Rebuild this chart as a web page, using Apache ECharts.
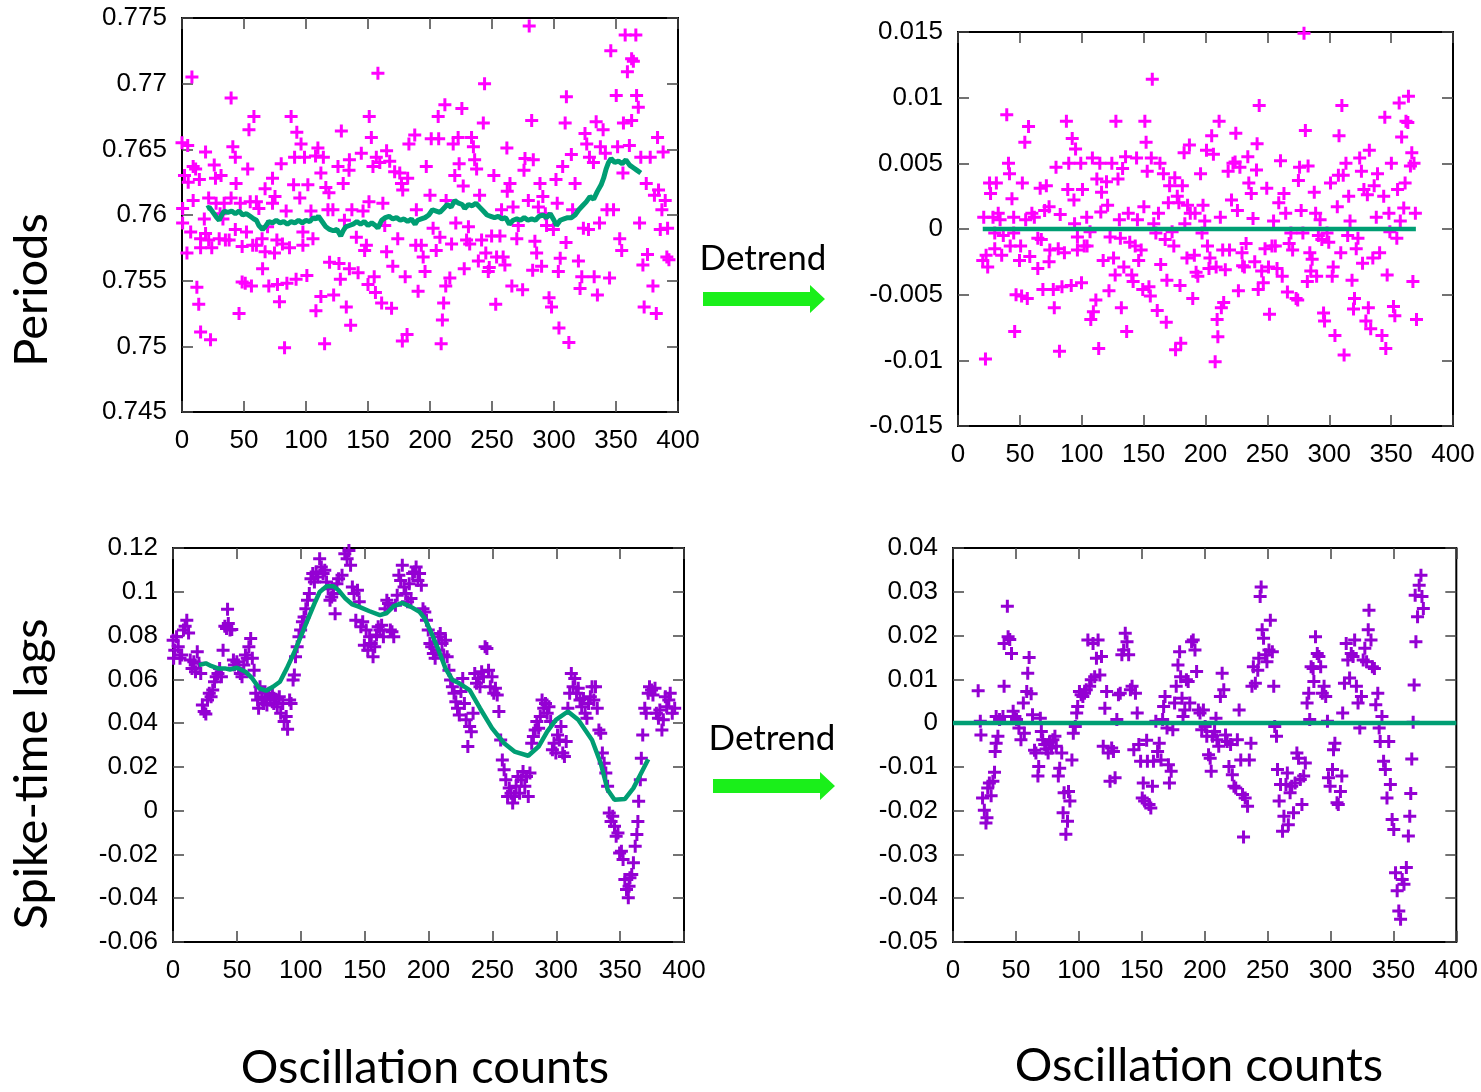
<!DOCTYPE html>
<html>
<head>
<meta charset="utf-8">
<title>Periods and spike-time lags</title>
<script src="https://cdn.jsdelivr.net/npm/echarts@6/dist/echarts.min.js"></script>
<style>
	html, body { margin: 0; padding: 0; background: #fff; }
	#box { width: 1481px; height: 1092px; }
</style>
</head>
<body>
<div id="box"></div>
<script>
// tick ranges [min, max, interval]
let countTicks = [0, 400, 50];
let periodTicks = [0.745, 0.775, 0.005];
let periodDetrendTicks = [-0.015, 0.015, 0.005];
let lagTicks = [-0.06, 0.12, 0.02];
let lagDetrendTicks = [-0.05, 0.04, 0.01];

// periods, raw [count, period]
let periodsRaw = [
	[0,0.7655],[4.6,0.7653],[8,0.7705],[2,0.7630],[5,0.7625],[9,0.7637],[11,0.7635],[14,0.7627],[0.5,0.7605],[9,0.7611],
	[0.5,0.7594],[7,0.7587],[4,0.7571],[12,0.7545],[13.5,0.7532],[15,0.7511],[23,0.7505],[18,0.7597],[19,0.7648],[21.5,0.7613],
	[15,0.7582],[19,0.7586],[21.5,0.7581],[15,0.7575],[24,0.7575],[26,0.7638],[27,0.7628],[31.5,0.7630],[27.5,0.7609],[30.7,0.7601],
	[33,0.7597],[34,0.7609],[30,0.7582],[35,0.7581],[38,0.7581],[39.6,0.7689],[41,0.7652],[43,0.7644],[43.6,0.7624],[39.6,0.7613],
	[43,0.7589],[47,0.7609],[46,0.7525],[48.5,0.7549],[51,0.7548],[53,0.7635],[52,0.7587],[48.5,0.7576],[54,0.7665],[58,0.7675],
	[55,0.7610],[57,0.7577],[56,0.7546],[60,0.7610],[62,0.7605],[60,0.7577],[64.6,0.7582],[65,0.7559],[67,0.7620],[69,0.7591],
	[67,0.7572],[70,0.7546],[73,0.7628],[73,0.7609],[74.6,0.7571],[75,0.7614],[76.5,0.7581],[78.6,0.7534],[77,0.7547],[80,0.7639],
	[81,0.7578],[82.7,0.7499],[84.6,0.7548],[84,0.7603],[86.7,0.7575],[88,0.7675],[90.8,0.7644],[90,0.7623],[92.6,0.7663],[92,0.7551],
	[95,0.7613],[96,0.7654],[97.5,0.7587],[98.8,0.7644],[97.5,0.7577],[101.5,0.7623],[100.7,0.7554],[104,0.7603],[105.6,0.7582],[107.7,0.7645],
	[109.6,0.7651],[112,0.7632],[114,0.7644],[108,0.7527],[112,0.7538],[115,0.7502],[116,0.7621],[117.7,0.7604],[118.5,0.7617],[119,0.7564],
	[121.7,0.7604],[122.3,0.7539],[125.8,0.7637],[126.6,0.7563],[128.5,0.7664],[130,0.7624],[127.7,0.7551],[131,0.7596],[132.5,0.7530],[135,0.7642],
	[134.7,0.7634],[137,0.7604],[136,0.7516],[135,0.7559],[140.6,0.7583],[142,0.7556],[144.6,0.7647],[146,0.7603],[147.3,0.7573],[148.7,0.7577],
	[151,0.7675],[152.7,0.7659],[150.8,0.7610],[150,0.7547],[154,0.7637],[155,0.7553],[158,0.7708],[156.7,0.7644],[159.5,0.7640],[156,0.7541],
	[162,0.7609],[163.5,0.7592],[165,0.7649],[167.5,0.7641],[161,0.7533],[169,0.7529],[165,0.7572],[170,0.7561],[171.5,0.7633],[175.6,0.7632],
	[174,0.7582],[177,0.7624],[178,0.7619],[180,0.7553],[177.7,0.7504],[181.5,0.7509],[182,0.7628],[183,0.7654],[187.7,0.7661],[189,0.7604],
	[188.5,0.7577],[190.4,0.7542],[193,0.7577],[194.5,0.7568],[196,0.7557],[197,0.7637],[200,0.7615],[201,0.7658],[202.5,0.7590],[205,0.7573],
	[206.6,0.7675],[207,0.7658],[208,0.7583],[209,0.7502],[210,0.7520],[211,0.7533],[212,0.7684],[212.7,0.7546],[216,0.7552],[213,0.7611],
	[217.4,0.7578],[218.7,0.7654],[220,0.7630],[220.8,0.7594],[222.7,0.7659],[223.5,0.7639],[225.7,0.7681],[226.8,0.7622],[227.6,0.7559],[229.5,0.7581],
	[231,0.7591],[232,0.7578],[233.5,0.7659],[235,0.7652],[236,0.7642],[237.6,0.7635],[239,0.7565],[240,0.7615],[241.6,0.7581],[243,0.7670],
	[244,0.7700],[245,0.7571],[247,0.7557],[247.8,0.7560],[249.7,0.7584],[251.5,0.7630],[253,0.7532],[253.7,0.7568],[256.4,0.7584],[257.7,0.7604],
	[259,0.7568],[260.4,0.7562],[262,0.7651],[262.3,0.7618],[264.5,0.7624],[266,0.7546],[267,0.7606],[270,0.7582],[271.2,0.7592],[274.7,0.7543],
	[275.8,0.7634],[276.6,0.7643],[279.3,0.7611],[280,0.7744],[282,0.7672],[283.3,0.7642],[282.8,0.7558],[284.6,0.7580],[286,0.7571],[287.4,0.7606],
	[288.7,0.7624],[290,0.7561],[291,0.7614],[293,0.7601],[294,0.7592],[296,0.7537],[298,0.7530],[299.5,0.7589],[301.6,0.7627],[302.6,0.7609],
	[304,0.7514],[303.5,0.7557],[305,0.7567],[307,0.7637],[309,0.7670],[310,0.7690],[309.7,0.7579],[312,0.7503],[314,0.7646],[315,0.7604],
	[317,0.7624],[319.7,0.7565],[321,0.7544],[322.4,0.7553],[323.7,0.7590],[325,0.7662],[326.4,0.7654],[327.8,0.7589],[328.6,0.7644],[331.8,0.7640],
	[332.4,0.7553],[334,0.7671],[335,0.7539],[336.7,0.7594],[337.4,0.7652],[339.6,0.7665],[341.4,0.7647],[342.7,0.7604],[344.8,0.7552],[345.8,0.7725],
	[348,0.7604],[350.2,0.7691],[351.3,0.7652],[353,0.7582],[354.6,0.7573],[355.6,0.7632],[356,0.7670],[357.4,0.7737],[359.2,0.7709],[360.8,0.7653],
	[362.6,0.7719],[364,0.7717],[362.6,0.7672],[366,0.7737],[366.6,0.7691],[368,0.7682],[369,0.7594],[370,0.7644],[371.7,0.7562],[372.7,0.7530],
	[374.4,0.7624],[375.4,0.7570],[377.6,0.7644],[379.8,0.7546],[381,0.7615],[382.5,0.7525],[383.5,0.7659],[384.3,0.7619],[385.7,0.7589],[387,0.7604],
	[388,0.7648],[389.7,0.7611],[391,0.7568],[391.6,0.7590],[392.7,0.7566]
];

// periods, moving trend
let periodsTrend = [
	[20,0.7605],[22,0.7606],[25,0.7602],[28,0.7598],[30,0.7596],[32,0.7600],[34,0.7603],[37,0.7602],[40,0.7603],[43,0.7601],
	[46,0.7603],[49,0.7600],[52,0.7601],[55,0.7599],[58,0.7597],[60,0.7596],[62,0.7592],[65,0.7589],[67,0.7591],[70,0.7595],
	[73,0.7594],[76,0.7596],[79,0.7594],[82,0.7595],[85,0.7593],[88,0.7595],[91,0.7594],[94,0.7596],[97,0.7594],[100,0.7596],
	[103,0.7595],[106,0.7598],[108,0.7597],[110,0.7599],[113,0.7595],[116,0.7591],[119,0.7589],[122,0.7588],[125,0.7589],[128,0.7584],
	[130,0.7588],[132,0.7591],[135,0.7592],[138,0.7593],[141,0.7595],[144,0.7593],[147,0.7595],[150,0.7592],[153,0.7594],[156,0.7592],
	[158,0.7590],[161,0.7596],[164,0.7598],[167,0.7599],[170,0.7597],[173,0.7598],[176,0.7596],[179,0.7597],[182,0.7595],[185,0.7597],
	[188,0.7593],[190,0.7596],[193,0.7597],[196,0.7598],[199,0.7600],[202,0.7604],[205,0.7603],[208,0.7602],[211,0.7605],[214,0.7608],
	[217,0.7606],[220,0.7611],[223,0.7609],[226,0.7608],[228,0.7605],[231,0.7608],[234,0.7607],[237,0.7609],[240,0.7606],[243,0.7603],
	[246,0.7600],[249,0.7599],[252,0.7598],[255,0.7599],[258,0.7597],[261,0.7598],[264,0.7593],[267,0.7596],[270,0.7597],[273,0.7596],
	[276,0.7598],[279,0.7596],[282,0.7597],[285,0.7596],[288,0.7599],[291,0.7600],[294,0.7598],[297,0.7601],[300,0.7596],[302,0.7592],
	[305,0.7596],[308,0.7597],[311,0.7598],[314,0.7598],[317,0.7600],[320,0.7604],[323,0.7607],[326,0.7610],[329,0.7614],[332,0.7612],
	[335,0.7618],[338,0.7623],[340,0.7628],[342,0.7635],[344,0.7640],[346,0.7643],[349,0.7640],[352,0.7641],[355,0.7639],[358,0.7642],
	[361,0.7638],[364,0.7636],[367,0.7634],[370,0.7632]
];

// periods, detrended
let periodsDetrended = [
	[22.2,-0.0099],[20.8,0.0009],[20,-0.0024],[22.7,-0.0020],[24,-0.0029],[25.5,0.0035],[26.3,0.0027],[28.3,0.0009],[29.7,-0.0003],[31,0.0035],
	[29.7,-0.0015],[32.5,0.0012],[34,0.0007],[35.3,-0.0020],[36.6,-0.0005],[39.4,0.0087],[40.8,0.0050],[41.6,0.0042],[42.2,-0.0013],[43.6,0.0023],
	[45,0.0009],[45,-0.0003],[45.8,-0.0078],[46.9,-0.0050],[49.7,-0.0024],[50.6,-0.0013],[51.4,-0.0051],[52,0.0035],[54,0.0066],[54.7,0.0007],
	[56,-0.0053],[57,0.0078],[58,-0.0021],[59.7,0.0012],[61.7,0.0009],[64.5,-0.0030],[64.5,-0.0007],[66.4,0.0031],[67.3,-0.0008],[68.6,-0.0046],
	[70,0.0014],[71.4,0.0033],[73.6,0.0017],[74.2,-0.0016],[73.6,-0.0025],[77,-0.0046],[77.8,-0.0060],[79.2,0.0047],[81,-0.0015],[82.6,0.0011],
	[84,-0.0044],[86,-0.0018],[82,-0.0093],[87.6,0.0082],[88.7,0.0030],[89.5,0.0050],[91.5,-0.0043],[92.3,0.0069],[93.7,0.0022],[94.2,0.0004],
	[95,0.0061],[96.5,-0.0006],[96.5,-0.0016],[99.2,0.0050],[99.8,-0.0041],[100.6,0.0030],[102,-0.0013],[104,0.0009],[104.3,-0.0013],[106.7,-0.0002],
	[107.3,-0.0069],[108.6,0.0054],[109.4,-0.0063],[111.4,-0.0054],[112.2,0.0038],[113.7,-0.0091],[114.6,0.0050],[115.4,0.0013],[116,0.0028],[117.3,-0.0024],
	[120,0.0036],[120.9,0.0018],[122,-0.0047],[122.9,-0.0006],[124.3,0.0050],[125.7,-0.0022],[127,-0.0035],[127.6,0.0082],[129.3,0.0038],[130.4,0.0007],
	[131.2,-0.0007],[132,-0.0060],[133,0.0046],[134,-0.0029],[135.4,0.0055],[136.3,-0.0078],[137.6,0.0012],[138.8,-0.0010],[140.4,-0.0035],[141.5,-0.0040],
	[143.2,-0.0013],[144.3,0.0054],[145,0.0007],[146,-0.0024],[148,-0.0016],[149.3,-0.0046],[150.2,0.0017],[151,0.0082],[152,0.0066],[152.9,0.0044],
	[154.3,-0.0044],[155.4,-0.0051],[156.2,0.0054],[157,0.0114],[158.2,0.0004],[159.9,-0.0003],[161,-0.0062],[162,0.0012],[163.2,0.0050],[163.8,-0.0027],
	[166,0.0042],[167.4,-0.0008],[168.3,-0.0071],[168.8,-0.0039],[170,0.0020],[171,0.0033],[173,-0.0002],[174.4,-0.0013],[175.2,0.0039],[175.8,-0.0092],
	[177.2,0.0025],[178.5,0.0020],[179.4,-0.0043],[180,-0.0087],[181.3,0.0033],[182.7,0.0058],[183.3,0.0004],[185,-0.0022],[185.5,0.0018],[187,0.0064],
	[187.7,0.0012],[189.7,-0.0053],[191,-0.0020],[191.6,0.0012],[192.4,-0.0033],[193.8,-0.0036],[196,0.0042],[197.2,-0.0003],[198,0.0018],[199.4,0.0006],
	[200.8,0.0060],[201.6,-0.0013],[202.8,-0.0030],[203.6,-0.0022],[205,0.0071],[206.4,0.0057],[207.8,-0.0101],[208.6,-0.0029],[209.4,-0.0069],[210,-0.0082],
	[211,0.0082],[212,0.0009],[212.8,-0.0060],[213.9,-0.0016],[214.7,-0.0056],[216,-0.0031],[218.3,0.0044],[219.4,-0.0016],[221,0.0022],[222.2,0.0050],
	[223.9,0.0051],[224.5,0.0073],[225.8,0.0014],[226.6,-0.0047],[227.8,0.0047],[229.5,-0.0018],[230,-0.0028],[231.4,-0.0029],[232.8,-0.0011],[234.2,0.0055],
	[235,0.0035],[237,0.0027],[238.4,0.0008],[239.8,-0.0025],[241.2,0.0045],[241.7,0.0065],[242.6,-0.0046],[243.4,0.0094],[245.4,-0.0032],[246.7,-0.0041],
	[248.1,-0.0015],[249.5,0.0031],[250.9,-0.0029],[251.7,-0.0065],[253.7,-0.0013],[255,0.0006],[256.4,-0.0013],[257.8,-0.0030],[259.2,0.0020],[260.6,0.0052],
	[262,-0.0036],[263.4,0.0027],[264.8,0.0012],[266.2,-0.0048],[267.6,-0.0011],[269,-0.0003],[270.4,-0.0016],[273.2,-0.0053],[274.5,-0.0054],[275.1,0.0037],
	[276,0.0047],[277.3,0.0014],[278.7,-0.0003],[279.6,0.0149],[280.7,0.0075],[282.3,-0.0040],[282.9,0.0048],[284.3,-0.0018],[285.1,-0.0032],[286.2,-0.0023],
	[287.9,0.0028],[289,0.0012],[289.8,-0.0036],[291.2,-0.0005],[292.6,0.0007],[294,-0.0008],[295.4,-0.0064],[296.2,-0.0070],[298.2,-0.0003],[299.6,-0.0010],
	[301,0.0035],[302.4,-0.0036],[303.2,-0.0029],[304.6,-0.0081],[306.5,0.0017],[307.4,0.0041],[307.9,0.0071],[309.3,-0.0018],[310.2,0.0094],[311.3,0.0041],
	[312,-0.0096],[313.5,0.0050],[314.9,-0.0005],[315.7,0.0025],[316.8,0.0006],[318.4,-0.0039],[319.6,-0.0061],[320.4,-0.0053],[321.8,-0.0015],[323.2,-0.0007],
	[324.6,0.0054],[326,0.0044],[326.9,-0.0026],[328,0.0030],[329.6,-0.0070],[330.8,0.0026],[331.6,-0.0060],[332.4,0.0060],[333.5,-0.0076],[335.2,-0.0022],
	[336.3,0.0033],[338,0.0009],[339,0.0042],[340.7,-0.0018],[342.6,-0.0081],[344,0.0025],[344.9,0.0085],[345.7,-0.0091],[346.8,-0.0035],[348.2,0.0012],
	[349,-0.0002],[350.2,0.0050],[351.9,-0.0059],[353,-0.0066],[354.6,-0.0007],[355.2,0.0030],[356.5,0.0096],[357.4,0.0006],[358.5,0.0070],[360.2,0.0016],
	[361.3,0.0035],[362,0.0082],[363.5,0.0081],[364,0.0101],[365.6,0.0048],[366.7,0.0058],[367.6,-0.0040],[368.5,0.0050],[369.6,0.0012],[370.5,-0.0069]
];
let periodsZero = [[20,0],[370,0]];

// spike-time lags, raw [count, lag]
let lagsRaw = [
	[0.1,0.0779],[1.4,0.0733],[2.8,0.0794],[4.1,0.0749],[5.5,0.0696],[6.8,0.0711],[0.5,0.0696],[8.2,0.0825],[9.5,0.0843],[10.8,0.0870],
	[12.2,0.0812],[13.5,0.0688],[14.9,0.0650],[16.3,0.0680],[17.6,0.0635],[19,0.0726],[20.3,0.0673],[21.7,0.0627],[23,0.0483],[24.4,0.0453],
	[25.7,0.0442],[27,0.0506],[28.4,0.0536],[29.8,0.0521],[31.1,0.0551],[32.5,0.0589],[33.8,0.0612],[35.2,0.0627],[36.5,0.0650],[37.9,0.0612],
	[39.2,0.0733],[40.6,0.0843],[41.9,0.0832],[42.7,0.0920],[43.3,0.0855],[44.6,0.0825],[46,0.0828],[47.3,0.0688],[48.1,0.0665],[50,0.0680],
	[51.3,0.0650],[52.7,0.0627],[54,0.0612],[55.4,0.0665],[56.7,0.0711],[58.1,0.0696],[59.4,0.0749],[60.8,0.0787],[62.1,0.0696],[63.5,0.0642],
	[64.8,0.0536],[66.2,0.0506],[67,0.0468],[68.1,0.0566],[69.7,0.0521],[70.8,0.0490],[72.4,0.0513],[73.5,0.0483],[75.1,0.0536],[76.2,0.0506],
	[77.8,0.0528],[78.9,0.0490],[80.5,0.0509],[81.6,0.0475],[83.2,0.0521],[84.3,0.0445],[85.9,0.0490],[87,0.0407],[88.6,0.0430],[89.7,0.0372],
	[91.3,0.0506],[92.4,0.0490],[94,0.0597],[95,0.0620],[95.9,0.0703],[97.2,0.0749],[98.6,0.0794],[99.9,0.0825],[101.3,0.0863],[102.6,0.0885],
	[104,0.0923],[105.3,0.0961],[106.7,0.0992],[108,0.1060],[109.4,0.1083],[110.7,0.1045],[112.1,0.1090],[113.4,0.1068],[114.8,0.1151],[116.1,0.1113],
	[117.5,0.1083],[118.8,0.1098],[120.2,0.1045],[121.5,0.1014],[122.9,0.0961],[124.2,0.0976],[125.6,0.0992],[126.9,0.0900],[128.3,0.1037],[129.6,0.1060],
	[132.3,0.1075],[134.5,0.1174],[136.3,0.1151],[137.7,0.1189],[139,0.1121],[140.4,0.1022],[141.7,0.0992],[143.1,0.0870],[144.4,0.1007],[145.8,0.0954],
	[147.1,0.0840],[148.5,0.0863],[149.8,0.0756],[151.2,0.0825],[152.5,0.0733],[153.9,0.0794],[155.2,0.0764],[156.6,0.0703],[157.9,0.0749],[159.3,0.0802],
	[160.6,0.0840],[162,0.0825],[163.3,0.0847],[164.7,0.0794],[166,0.0923],[167.4,0.0961],[168.7,0.0946],[170.1,0.0825],[171.4,0.0817],[172.8,0.0794],
	[174.1,0.0938],[175.5,0.0984],[176.8,0.1075],[178.2,0.1052],[179.5,0.1121],[180.9,0.1022],[182.2,0.0992],[183.6,0.0954],[184.9,0.1037],[186.3,0.0969],
	[187.6,0.1083],[189,0.1090],[190.3,0.1113],[191.7,0.1052],[193,0.1083],[194.4,0.1030],[195.7,0.0923],[197.1,0.0908],[198.4,0.0870],[199.8,0.0825],
	[201.1,0.0764],[202.5,0.0749],[203.8,0.0718],[205.2,0.0696],[206.5,0.0733],[207.9,0.0794],[209.2,0.0809],[210.6,0.0764],[211.9,0.0711],[213.3,0.0779],
	[214.6,0.0703],[216,0.0642],[217.3,0.0597],[218.7,0.0566],[220,0.0536],[221.4,0.0498],[222.7,0.0468],[224.1,0.0437],[225.4,0.0544],[226.8,0.0604],
	[228.1,0.0490],[229.5,0.0415],[230.8,0.0293],[232.2,0.0384],[233.5,0.0361],[234.9,0.0445],[236.2,0.0627],[237.6,0.0582],[238.9,0.0604],[240.3,0.0566],
	[241.6,0.0635],[243,0.0612],[244.3,0.0749],[245.7,0.0741],[247,0.0642],[248.4,0.0566],[249.7,0.0612],[251.1,0.0536],[252.4,0.0559],[253.8,0.0528],
	[255.1,0.0453],[256.5,0.0323],[257.8,0.0232],[259.2,0.0187],[260.5,0.0141],[261.9,0.0065],[263.2,0.0103],[264.6,0.0080],[265.9,0.0035],[267.3,0.0065],
	[268.6,0.0111],[270,0.0156],[271.3,0.0080],[272.7,0.0141],[274,0.0179],[275.4,0.0111],[276.7,0.0156],[278.1,0.0065],[279.4,0.0172],[280.8,0.0308],
	[282.1,0.0339],[283.5,0.0369],[284.8,0.0407],[286.2,0.0377],[287.5,0.0430],[288.9,0.0506],[290.2,0.0468],[291.6,0.0490],[292.9,0.0445],[294.3,0.0475],
	[295.6,0.0407],[297,0.0278],[298.3,0.0308],[299.7,0.0263],[301,0.0346],[302.4,0.0323],[303.7,0.0384],[305.1,0.0263],[306.4,0.0248],[307.8,0.0316],
	[309.1,0.0468],[310.5,0.0536],[311.8,0.0627],[313.2,0.0566],[314.5,0.0604],[315.9,0.0536],[317.2,0.0559],[318.6,0.0506],[319.9,0.0475],[321.3,0.0513],
	[322.6,0.0445],[324,0.0422],[325.3,0.0490],[326.7,0.0521],[328,0.0566],[329.4,0.0506],[330.7,0.0566],[332.1,0.0468],[333.4,0.0369],[334.8,0.0354],
	[336.1,0.0263],[337.5,0.0217],[338.8,0.0172],[340.2,0.0111],[341.5,-0.0011],[342.9,-0.0049],[344.2,-0.0026],[345.6,-0.0071],[346.9,-0.0117],[348.3,-0.0102],
	[349.6,-0.0193],[351,-0.0185],[352.3,-0.0223],[353.7,-0.0314],[355,-0.0360],[356.4,-0.0398],[357,-0.0345],[357.7,-0.0307],[359.1,-0.0292],[360.4,-0.0238],
	[361.8,-0.0162],[363.1,-0.0109],[363.9,-0.0049],[364.5,0.0043],[365.8,0.0141],[366.6,0.0240],[367.7,0.0346],[369.3,0.0468],[370.4,0.0445],[372,0.0536],
	[373,0.0566],[374.6,0.0551],[375.7,0.0528],[377.3,0.0559],[378.4,0.0445],[380,0.0422],[381.1,0.0460],[382.7,0.0369],[383.8,0.0415],[385.4,0.0521],
	[386.5,0.0475],[388.1,0.0506],[389.2,0.0536],[390.8,0.0445],[392.7,0.0468]
];

// spike-time lags, smooth trend
let lagsTrend = [
	[20.3,0.0665],[25.7,0.0673],[29.8,0.0661],[35.2,0.0650],[40.6,0.0650],[44.6,0.0645],[50,0.0653],[56.7,0.0635],[62.1,0.0604],[67.5,0.0559],
	[72.9,0.0548],[78.3,0.0566],[83.7,0.0589],[89.1,0.0650],[94.5,0.0718],[99.9,0.0794],[105.3,0.0870],[110.7,0.0946],[114.8,0.0999],[120.2,0.1025],
	[125.6,0.1025],[129.6,0.1007],[135,0.0969],[140.4,0.0942],[145.8,0.0931],[153.9,0.0911],[162,0.0893],[167.4,0.0903],[172.8,0.0934],[179.5,0.0949],
	[186.3,0.0931],[193,0.0908],[197.1,0.0878],[202.5,0.0809],[207.9,0.0733],[213.3,0.0650],[218.7,0.0597],[224.1,0.0582],[232.2,0.0551],[240.3,0.0468],
	[249.7,0.0377],[259.2,0.0308],[267.3,0.0270],[278.1,0.0251],[286.2,0.0293],[292.9,0.0361],[299.7,0.0415],[309.1,0.0453],[317.2,0.0415],[328,0.0323],
	[334.8,0.0217],[340.2,0.0096],[345.6,0.0050],[353.7,0.0053],[360.4,0.0103],[365.8,0.0164],[372,0.0235]
];

// spike-time lags, detrended
let lagsDetrended = [
	[20,0.0074],[21.7,0.0004],[22.2,-0.0027],[23.5,-0.0171],[24.9,-0.0199],[26.2,-0.0228],[27,-0.0216],[27.6,-0.0148],[28.9,-0.0137],[30.3,-0.0166],
	[31.7,-0.0133],[33,-0.0112],[33.5,-0.0065],[34.3,-0.0046],[35.7,-0.0030],[34.3,0.0015],[37,0.0008],[39.7,0.0015],[40.6,0.0084],[40.6,0.0182],
	[43.2,0.0267],[43.8,0.0197],[45.1,0.0191],[46.5,0.0159],[47.8,0.0027],[49.2,0.0015],[50.5,0.0008],[52.4,-0.0011],[54,-0.0038],[55.9,0.0046],
	[56.7,-0.0023],[58.6,0.0072],[59.4,0.0114],[60.5,0.0150],[62.1,0.0067],[63.2,0.0019],[64.8,-0.0062],[65.9,-0.0068],[67.5,-0.0121],[68.1,-0.0099],
	[69.4,0.0011],[70.2,-0.0019],[71.3,-0.0038],[72.9,-0.0049],[74,-0.0059],[75.6,-0.0068],[76.7,-0.0044],[78.3,-0.0057],[79.4,-0.0038],[81,-0.0030],
	[82.1,-0.0053],[83.7,-0.0121],[84.8,-0.0103],[86.4,-0.0068],[87.5,-0.0205],[88.3,-0.0159],[89.7,-0.0254],[91,-0.0224],[91.8,-0.0156],[92.9,-0.0178],
	[94.5,-0.0084],[95.6,-0.0023],[97.2,-0.0008],[98.3,0.0023],[99.1,0.0038],[100.5,0.0072],[101.8,0.0065],[103.2,0.0061],[104.5,0.0068],[105.9,0.0076],
	[107.2,0.0190],[108.6,0.0084],[109.9,0.0099],[111.3,0.0182],[112.6,0.0106],[114,0.0148],[115.3,0.0190],[116.7,0.0110],[118,0.0152],[119.4,-0.0053],
	[120.7,0.0034],[122.1,0.0072],[123.4,-0.0068],[124.8,-0.0133],[126.1,-0.0057],[127.5,-0.0065],[128.8,-0.0125],[130.2,0.0008],[131.5,0.0065],[132.9,0.0068],
	[134.2,0.0156],[135.6,0.0167],[136.9,0.0205],[138.3,0.0186],[139.6,0.0156],[141,0.0076],[142.3,0.0084],[143.7,-0.0061],[145,0.0068],[146.4,0.0023],
	[147.7,-0.0049],[149.1,-0.0087],[150.4,-0.0171],[151.2,-0.0137],[152.3,-0.0178],[153.9,-0.0039],[154.5,-0.0087],[155.8,-0.0186],[157.2,-0.0194],[158.5,-0.0144],
	[159.3,-0.0087],[161.2,0.0004],[162.6,-0.0065],[163.9,-0.0046],[165.3,-0.0084],[166.6,0.0008],[167.4,0.0038],[168.5,0.0061],[170.1,-0.0011],[171.2,-0.0095],
	[172,-0.0137],[173.4,-0.0110],[174.7,-0.0015],[176.1,0.0046],[177.4,0.0084],[178.8,0.0133],[180.1,0.0163],[180.9,0.0106],[182,0.0057],[182.8,0.0015],
	[184.2,0.0030],[185.5,0.0099],[186.9,0.0095],[188.2,0.0046],[189.6,0.0186],[190.9,0.0190],[192.3,0.0167],[193.6,0.0118],[195,0.0030],[196.3,0.0023],
	[197.7,-0.0015],[199,0.0030],[200.4,-0.0008],[201.7,-0.0030],[203.1,-0.0072],[204.4,-0.0080],[205.2,-0.0110],[206.3,-0.0030],[207.9,-0.0019],[209,0.0011],
	[209.8,-0.0038],[211.2,-0.0053],[212.5,0.0061],[213.9,0.0114],[215.2,0.0076],[216.6,-0.0027],[217.9,-0.0042],[219.3,-0.0099],[220.6,-0.0049],[222,-0.0118],
	[223.3,-0.0144],[224.7,-0.0148],[226,-0.0038],[227.4,0.0030],[228.7,-0.0084],[230.1,-0.0163],[230.9,-0.0260],[232.2,-0.0171],[234.1,-0.0190],[235.5,-0.0084],
	[236.8,-0.0046],[237.6,0.0084],[238.7,0.0129],[240.3,0.0091],[242.2,0.0121],[243,0.0148],[244.1,0.0289],[244.9,0.0311],[245.7,0.0213],[246.8,0.0194],
	[248.4,0.0156],[249.5,0.0140],[251.1,0.0167],[252.2,0.0235],[253.8,0.0163],[254.9,0.0084],[255.7,-0.0008],[257.1,-0.0030],[257.9,-0.0106],[259.2,-0.0178],
	[260.3,-0.0140],[261.9,-0.0247],[263,-0.0213],[264.6,-0.0140],[265.7,-0.0114],[266.5,-0.0232],[267.9,-0.0159],[269.2,-0.0144],[270.6,-0.0205],[271.9,-0.0137],
	[273.3,-0.0068],[274.6,-0.0080],[276,-0.0129],[277.3,-0.0186],[278.7,-0.0121],[280,-0.0091],[281.4,0.0046],[282.7,0.0068],[283.5,0.0008],[284.6,0.0129],
	[286.2,0.0125],[286.8,0.0095],[288.1,0.0197],[289.5,0.0159],[290.8,0.0152],[292.2,0.0129],[293.5,0.0068],[294.9,0.0084],[296.2,0.0061],[297.6,0.0004],
	[298.4,-0.0125],[299.7,-0.0144],[301.6,-0.0106],[302.4,-0.0061],[303.5,-0.0046],[305.2,-0.0182],[306.2,-0.0186],[307.9,-0.0156],[309,-0.0121],[309.7,0.0023],
	[311.1,0.0091],[312.5,0.0182],[313.8,0.0144],[315.2,0.0103],[316.5,0.0159],[317.9,0.0152],[319.2,0.0190],[320.6,0.0084],[321.9,0.0046],[323.3,-0.0011],
	[324.6,0.0061],[326,0.0144],[327.3,0.0171],[328.7,0.0140],[330,0.0213],[330.6,0.0258],[332.2,0.0190],[333.3,0.0129],[334.9,0.0125],[336,0.0042],
	[337.6,0.0068],[338.7,-0.0011],[339.5,-0.0042],[340.9,0.0015],[342.2,-0.0087],[343.6,-0.0106],[344.9,-0.0171],[346.3,-0.0042],[347.6,-0.0140],[349,-0.0220],
	[350.3,-0.0243],[351.7,-0.0342],[353,-0.0383],[354.3,-0.0429],[355.7,-0.0448],[357,-0.0357],[358.4,-0.0368],[360.3,-0.0330],[361.9,-0.0258],[363,-0.0213],
	[363.8,-0.0161],[364.6,-0.0082],[365.7,0.0002],[366.5,0.0087],[367.9,0.0186],[369.2,0.0243],[370.5,0.0315],[371.9,0.0338],[372.7,0.0289],[373.8,0.0262],
	[367.3,0.0292]
];
let lagsZero = [[0,0],[400,0]];

let chart = echarts.init(document.getElementById('box'), null, { renderer: 'canvas' });

// bold "+" marker, arm width about 1/4.6 of the size
let plusSymbol = 'path://M5,0h3v5h5v3h-5v5h-3v-5h-5v-3h5z';
let tickFont = 'Liberation Sans';
let bigFont = 'Lato';
let green = '#009e73';

let grids = [
	{ left: 182, top: 18, width: 496, height: 394 },
	{ left: 958, top: 32, width: 495, height: 394 },
	{ left: 173, top: 548, width: 511, height: 394 },
	{ left: 953, top: 548, width: 510, height: 394 }
];
let yRanges = [periodTicks, periodDetrendTicks, lagTicks, lagDetrendTicks];

function fmt(v) {
	return String(parseFloat(v.toFixed(4)));
}

let xAxes = [];
let yAxes = [];
grids.forEach(function(g, i) {
	g.show = true;
	g.borderColor = '#000';
	g.borderWidth = 2;
	g.backgroundColor = '#fff';
	g.containLabel = false;
	// bottom axis with labels, top axis as mirror
	['bottom', 'top'].forEach(function(pos) {
		xAxes.push({
			gridIndex: i,
			type: 'value',
			position: pos,
			min: countTicks[0],
			max: countTicks[1],
			interval: countTicks[2],
			axisLine: { show: false, onZero: false },
			axisTick: { show: true, inside: true, length: 11, lineStyle: { color: '#444', width: 1.5 } },
			splitLine: { show: false },
			axisLabel: {
				show: pos === 'bottom',
				margin: 16,
				fontFamily: tickFont,
				fontSize: 26,
				color: '#000',
				showMinLabel: true,
				showMaxLabel: true
			}
		});
	});
	['left', 'right'].forEach(function(pos) {
		yAxes.push({
			gridIndex: i,
			type: 'value',
			position: pos,
			min: yRanges[i][0],
			max: yRanges[i][1],
			interval: yRanges[i][2],
			axisLine: { show: false, onZero: false },
			axisTick: { show: true, inside: true, length: 11, lineStyle: { color: '#444', width: 1.5 } },
			splitLine: { show: false },
			axisLabel: {
				show: pos === 'left',
				margin: 15,
				fontFamily: tickFont,
				fontSize: 26,
				color: '#000',
				showMinLabel: true,
				showMaxLabel: true,
				formatter: fmt
			}
		});
	});
});

function scatter(i, data, color) {
	return {
		type: 'scatter',
		xAxisIndex: i * 2,
		yAxisIndex: i * 2,
		data: data,
		symbol: plusSymbol,
		symbolSize: 13,
		itemStyle: { color: color, opacity: 1 },
		silent: true,
		z: 2
	};
}

function trend(i, data, width) {
	return {
		type: 'line',
		xAxisIndex: i * 2,
		yAxisIndex: i * 2,
		data: data,
		showSymbol: false,
		symbol: 'none',
		smooth: false,
		lineStyle: { color: green, width: width },
		silent: true,
		z: 3
	};
}

function arrow(x, y) {
	return {
		type: 'polygon',
		shape: {
			points: [[x, y - 7], [x + 107, y - 7], [x + 107, y - 14], [x + 122, y], [x + 107, y + 14], [x + 107, y + 7], [x, y + 7]]
		},
		style: { fill: '#1aef1a' }
	};
}

function label(text, x, y, size, rot) {
	return {
		type: 'text',
		x: x,
		y: y,
		rotation: rot || 0,
		style: {
			text: text,
			fontFamily: bigFont,
			fontSize: size,
			fill: '#000',
			align: 'center',
			verticalAlign: 'middle'
		}
	};
}

let option = {
	animation: false,
	backgroundColor: '#fff',
	grid: grids,
	xAxis: xAxes,
	yAxis: yAxes,
	series: [
		scatter(0, periodsRaw, '#ff00ff'),
		trend(0, periodsTrend, 5),
		scatter(1, periodsDetrended, '#ff00ff'),
		trend(1, periodsZero, 4.5),
		scatter(2, lagsRaw, '#9400d3'),
		trend(2, lagsTrend, 4.5),
		scatter(3, lagsDetrended, '#9400d3'),
		trend(3, lagsZero, 4.5)
	],
	graphic: [
		label('Periods', 32, 290, 47, Math.PI / 2),
		label('Spike-time lags', 32, 774, 47, Math.PI / 2),
		label('Oscillation counts', 425, 1068, 47),
		label('Oscillation counts', 1199, 1066, 47),
		label('Detrend', 763, 259, 35),
		label('Detrend', 772, 739, 35),
		arrow(703, 299),
		arrow(713, 786)
	]
};

chart.setOption(option);
</script>
</body>
</html>
